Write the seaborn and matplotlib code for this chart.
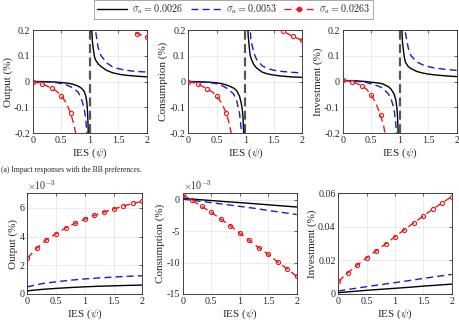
import numpy as np
import seaborn as sns
import matplotlib
matplotlib.use("Agg")
import matplotlib.pyplot as plt
from matplotlib.lines import Line2D
from matplotlib.ticker import FuncFormatter

nan = np.nan

# ---- top row: impact responses, pole at psi = 1 ----
psi_top = [0, 0.2, 0.4, 0.5, 0.6, 0.7, 0.8, 0.85, 0.9, 0.93, 0.95, 0.96, 0.97, 0.98,
           1.0,
           1.03, 1.05, 1.08, 1.1, 1.15, 1.2, 1.3, 1.4, 1.5, 1.6, 1.8, 2.0]

out_black = [0, -0.0005, -0.002, -0.004, -0.006, -0.010, -0.018, -0.025, -0.037, -0.055, -0.08, -0.11, -0.16, -0.25,
             nan,
             0.22, 0.15, 0.10, 0.085, 0.068, 0.058, 0.043, 0.034, 0.029, 0.025, 0.021, 0.018]
out_blue = [0, -0.001, -0.004, -0.008, -0.014, -0.024, -0.042, -0.065, -0.10, -0.145, -0.2, -0.26, -0.35, -0.5,
            nan,
            0.7, 0.5, 0.28, 0.2, 0.13, 0.1, 0.072, 0.057, 0.05, 0.045, 0.039, 0.037]
cons_black = [0, -0.001, -0.003, -0.005, -0.009, -0.016, -0.026, -0.036, -0.058, -0.085, -0.115, -0.14, -0.19, -0.28,
              nan,
              0.3, 0.18, 0.11, 0.09, 0.065, 0.052, 0.036, 0.029, 0.025, 0.022, 0.018, 0.016]
cons_blue = [0, -0.002, -0.005, -0.009, -0.017, -0.029, -0.05, -0.075, -0.125, -0.19, -0.26, -0.32, -0.4, -0.55,
             nan,
             0.7, 0.4, 0.22, 0.16, 0.11, 0.085, 0.06, 0.05, 0.044, 0.04, 0.036, 0.033]
inv_black = [0.004, 0.003, 0.0, -0.003, -0.005, -0.009, -0.02, -0.03, -0.048, -0.07, -0.1, -0.13, -0.18, -0.27,
             nan,
             0.23, 0.15, 0.095, 0.075, 0.058, 0.05, 0.039, 0.033, 0.029, 0.026, 0.022, 0.019]
inv_blue = [0.004, 0.002, -0.003, -0.009, -0.016, -0.025, -0.048, -0.068, -0.106, -0.16, -0.22, -0.28, -0.36, -0.5,
            nan,
            0.7, 0.4, 0.23, 0.19, 0.13, 0.1, 0.076, 0.065, 0.058, 0.053, 0.047, 0.043]

psi_red_top = [0, 1/6, 2/6, 0.42, 3/6, 0.58, 4/6, 0.72, 0.78,
               1.0,
               1.5, 10/6, 1.75, 11/6, 1.92, 2.0]
out_red = [0, -0.009, -0.026, -0.038, -0.055, -0.08, -0.123, -0.165, -0.23,
           nan,
           0.30, 0.225, 0.2, 0.186, 0.179, 0.173]
cons_red = [0, -0.009, -0.029, -0.04, -0.057, -0.082, -0.123, -0.165, -0.23,
            nan,
            0.26, 0.196, 0.185, 0.175, 0.167, 0.16]
inv_red = [0.005, 0.0, -0.016, -0.03, -0.052, -0.083, -0.132, -0.175, -0.24,
           nan,
           nan, nan, nan, nan, nan, nan]

# ---- bottom row ----
psi_bot = [0, 0.25, 0.5, 0.75, 1.0, 1.25, 1.5, 1.75, 2.0]
psi_red_bot = [0, 1/6, 2/6, 3/6, 4/6, 5/6, 1, 7/6, 8/6, 9/6, 10/6, 11/6, 2]

out2_black = [0.22e-3, 0.32e-3, 0.39e-3, 0.45e-3, 0.50e-3, 0.54e-3, 0.57e-3, 0.60e-3, 0.62e-3]
out2_blue = [0.50e-3, 0.72e-3, 0.85e-3, 0.96e-3, 1.05e-3, 1.12e-3, 1.18e-3, 1.23e-3, 1.27e-3]
out2_red = [2.5e-3, 3.2e-3, 3.78e-3, 4.2e-3, 4.6e-3, 4.92e-3, 5.22e-3, 5.47e-3, 5.7e-3, 5.91e-3, 6.12e-3, 6.31e-3, 6.45e-3]

cons2_black = [0.2e-3, 0.05e-3, -0.12e-3, -0.3e-3, -0.45e-3, -0.62e-3, -0.8e-3, -0.98e-3, -1.15e-3]
cons2_blue = [0.1e-3, -0.17e-3, -0.45e-3, -0.75e-3, -1.05e-3, -1.35e-3, -1.7e-3, -2.02e-3, -2.35e-3]
cons2_red = [0.8e-3, -0.1e-3, -1.06e-3, -2.0e-3, -3.06e-3, -4.1e-3, -5.3e-3, -6.45e-3, -7.6e-3, -8.7e-3, -9.9e-3, -11.0e-3, -12.2e-3]

inv2_black = [0.0008, 0.0015, 0.0022, 0.0028, 0.0034, 0.004, 0.0047, 0.0053, 0.0059]
inv2_blue = [0.0018, 0.0031, 0.0044, 0.0056, 0.0068, 0.0080, 0.0093, 0.0105, 0.0117]
inv2_red = [0.0075, 0.0126, 0.0173, 0.0216, 0.0258, 0.0299, 0.0342, 0.0384, 0.0425, 0.0466, 0.0506, 0.0545, 0.058]

labels = [r"$\sigma_a = 0.0026$", r"$\sigma_a = 0.0053$", r"$\sigma_a = 0.0263$"]
ylabels = ["Output (%)", "Consumption (%)", "Investment (%)"]

BLACK = "black"
BLUE = "#1a1ad0"
RED = "#e8191c"

sns.set_theme(style="whitegrid")
plt.rcParams["font.family"] = ["Liberation Serif", "DejaVu Serif"]
plt.rcParams["mathtext.fontset"] = "cm"
plt.rcParams["axes.unicode_minus"] = False

fig = plt.figure(figsize=(4.59, 3.24), dpi=100)
fig.patch.set_facecolor("white")

top_pos = [(0.0712, 0.5895, 0.2484, 0.3179),
           (0.4102, 0.5895, 0.2484, 0.3179),
           (0.7466, 0.5895, 0.2484, 0.3179)]
bot_pos = [(0.0595, 0.0926, 0.2505, 0.3102),
           (0.3980, 0.0926, 0.2484, 0.3102),
           (0.7370, 0.0926, 0.2470, 0.3102)]

gfmt = FuncFormatter(lambda v, p: "%g" % round(v, 6))
e3fmt = FuncFormatter(lambda v, p: "%g" % round(v * 1e3, 6))

TICK_FS = 7.2
LABEL_FS = 8


def style_axes(ax):
    ax.set_facecolor("white")
    ax.grid(True, color="#e3e3e3", lw=0.5)
    for s in ax.spines.values():
        s.set_color("#262626")
        s.set_linewidth(0.6)
    ax.tick_params(direction="in", length=2.5, width=0.5, labelsize=TICK_FS,
                   colors="#262626", pad=2, top=True, right=True)
    ax.set_xlim(0, 2)
    ax.set_xticks([0, 0.5, 1, 1.5, 2])
    ax.xaxis.set_major_formatter(gfmt)
    ax.set_xlabel(r"IES ($\psi$)", fontsize=LABEL_FS, labelpad=1)


def red_marks(xs):
    return [i for i, x in enumerate(xs) if abs(x * 6 - round(x * 6)) < 1e-9 and x != 1.0]


top_data = [(out_black, out_blue, out_red),
            (cons_black, cons_blue, cons_red),
            (inv_black, inv_blue, inv_red)]

for k, (b, u, r) in enumerate(top_data):
    ax = fig.add_axes(top_pos[k])
    style_axes(ax)
    ax.axvline(1.0, color="#555555", lw=1.6, ls=(0, (4, 2)), zorder=2)
    ax.plot(psi_top, b, color=BLACK, lw=1.0, zorder=3)
    ax.plot(psi_top, u, color=BLUE, lw=1.0, ls=(0, (5, 3)), zorder=3)
    ax.plot(psi_red_top, r, color=RED, lw=1.0, ls=(0, (5, 3)), marker="o", ms=3,
            mfc="none", mew=0.8, markevery=red_marks(psi_red_top), zorder=4)
    ax.set_ylim(-0.2, 0.2)
    ax.set_yticks([-0.2, -0.1, 0, 0.1, 0.2])
    ax.yaxis.set_major_formatter(gfmt)
    ax.set_ylabel(ylabels[k], fontsize=LABEL_FS, labelpad=1)

bot_data = [(out2_black, out2_blue, out2_red, (0, 7e-3), [0, 2e-3, 4e-3, 6e-3]),
            (cons2_black, cons2_blue, cons2_red, (-15e-3, 1e-3), [-15e-3, -10e-3, -5e-3, 0]),
            (inv2_black, inv2_blue, inv2_red, (0, 0.06), [0, 0.02, 0.04, 0.06])]

for k, (b, u, r, yl, yt) in enumerate(bot_data):
    ax = fig.add_axes(bot_pos[k])
    style_axes(ax)
    sns.lineplot(x=psi_bot, y=b, ax=ax, color=BLACK, lw=1.0, zorder=3)
    sns.lineplot(x=psi_bot, y=u, ax=ax, color=BLUE, lw=1.0, dashes=(5, 3), zorder=3)
    sns.lineplot(x=psi_red_bot, y=r, ax=ax, color=RED, lw=1.0, dashes=(5, 3), marker="o",
                 markersize=3, markerfacecolor="none", markeredgecolor=RED, mew=0.8, zorder=4)
    ax.set_ylim(*yl)
    ax.set_yticks(yt)
    if k < 2:
        ax.yaxis.set_major_formatter(e3fmt)
        ax.text(0.0, 1.01, r"$\times10^{-3}$", transform=ax.transAxes, fontsize=TICK_FS,
                ha="left", va="bottom", color="#262626")
    else:
        ax.yaxis.set_major_formatter(gfmt)
    ax.set_ylabel(ylabels[k], fontsize=LABEL_FS, labelpad=1)

fig.text(0.002, 1 - 170 / 324, "(a) Impact responses with the BB preferences.",
         fontsize=5.5, va="center", ha="left")

handles = [Line2D([], [], color=BLACK, lw=1.0),
           Line2D([], [], color=BLUE, lw=1.0, ls=(0, (5, 3))),
           Line2D([], [], color=RED, lw=1.0, ls=(0, (5, 3)), marker="o", ms=3, mfc=RED)]
leg = fig.legend(handles, labels, loc="center", bbox_to_anchor=(0.509, 1 - 9.5 / 324),
                 ncol=3, fontsize=7.2, frameon=True, fancybox=False, handlelength=3.0,
                 handletextpad=0.5, columnspacing=0.8, borderpad=0.3)
leg.get_frame().set_edgecolor("#7f7f7f")
leg.get_frame().set_linewidth(0.6)

fig.savefig("out.png", dpi=100, facecolor="white")
